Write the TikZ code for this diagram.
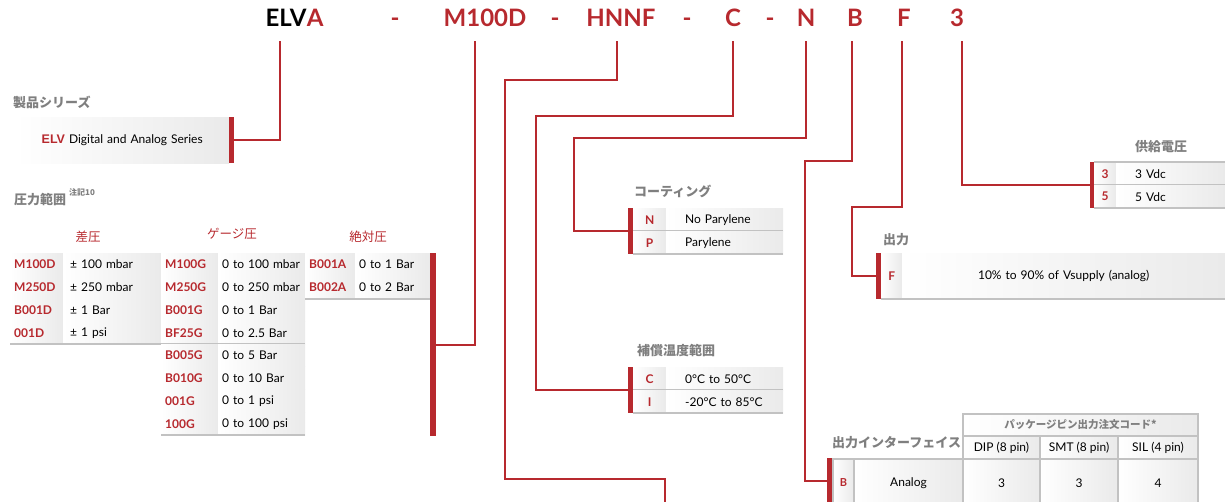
\documentclass[tikz,border=0pt]{standalone}
\usepackage{fontspec}
\setmainfont{Lato}
\newfontfamily\jpfont{Noto Sans CJK JP}
\newfontfamily\arialfont{Liberation Sans}
\usetikzlibrary{positioning}
\definecolor{elvred}{HTML}{B7292E}
\definecolor{labgray}{HTML}{7F7F7F}
\definecolor{cellgray}{HTML}{EAEAEA}
\definecolor{linegray}{HTML}{C2C2C2}

\begin{document}
\begin{tikzpicture}[
            x = 1pt, y = -1pt, % one unit per pixel, y runs down
            title/.style = {font=\bfseries\fontsize{24}{28}\selectfont, anchor=base, inner xsep=0pt, inner ysep=14pt, text depth=0pt},
            wire/.style = {draw=elvred, line width=2pt},
            bar/.style = {fill=elvred, inner sep=0pt, minimum width=5pt, minimum height=46pt, anchor=north west},
            cell/.style = {anchor=north west, inner xsep=4pt, inner ysep=0pt, minimum height=22.75pt, text width=#1, left color=white, right color=cellgray, font=\fontsize{12}{14}\selectfont},
            code/.style = {cell=#1, text=elvred, font=\bfseries\fontsize{12}{14}\selectfont},
            val/.style = {cell=#1},
            sepline/.style = {draw=linegray, line width=2pt},
            gcell/.style = {draw=linegray, line width=2pt, inner sep=0pt, anchor=north west, left color=white, right color=cellgray, align=center, font=\fontsize{12}{14}\selectfont},
            grouphead/.style = {font=\jpfont\bfseries\fontsize{13}{15}\selectfont, text=labgray, anchor=base west, inner sep=0pt},
            colhead/.style = {font=\jpfont\fontsize{12.5}{15}\selectfont, text=elvred, inner sep=0pt}
        ]
\useasboundingbox (0,0) rectangle (1225,502);
\clip (0,0) rectangle (1225,502);

% part number
\node[title] (tELV) at (286,27) {ELV};
\node[title, text=elvred, base right=0pt of tELV] (tA) {A};
\node[title, text=elvred] (dash1) at (395,27) {-};
\node[title, text=elvred] (tM) at (485,27) {M100D};
\node[title, text=elvred] (dash2) at (555,27) {-};
\node[title, text=elvred] (tH) at (621,27) {HNNF};
\node[title, text=elvred] (dash3) at (687,27) {-};
\node[title, text=elvred] (tC) at (733,27) {C};
\node[title, text=elvred] (dash4) at (770,27) {-};
\node[title, text=elvred] (tN) at (806,27) {N};
\node[title, text=elvred] (tB) at (855,27) {B};
\node[title, text=elvred] (tF) at (904,27) {F};
\node[title, text=elvred] (t3) at (957,27) {3};

% product series
\node[grouphead] (lbS) at (13,108) {製品シリーズ};
\node[cell=198pt, minimum height=46pt, align=center, inner xsep=8pt] (boxS) at (15,117)
     {{\arialfont\bfseries\fontsize{12.5}{14}\selectfont\color{elvred}ELV} Digital and Analog Series};
\node[bar] (barS) at (229,117) {};

% pressure range
\node[grouphead] (lbP) at (14,205) {圧力範囲};
\node[grouphead, font=\jpfont\bfseries\fontsize{8}{9}\selectfont] (lbPnote) at (69,196) {注記10};
\node[colhead] (hdD) at (88,237) {差圧};
\node[colhead] (hdG) at (232,234) {ゲージ圧};
\node[colhead] (hdA) at (368,237) {絶対圧};

\foreach \cd/\vl [count=\i from 0] in {M100D/{± 100 mbar}, M250D/{± 250 mbar}, B001D/{± 1 Bar}, 001D/{± 1 psi}} {
    \node[code=45pt] (dc\i) at (10,{253+22.75*\i}) {\cd};
    \node[val=84pt, inner xsep=7pt] (dv\i) at (63,{253+22.75*\i}) {\vl};
    \draw[sepline] (dc\i.south west) -- (dv\i.south east);
}
\foreach \cd/\vl [count=\i from 0] in {M100G/{0 to 100 mbar}, M250G/{0 to 250 mbar}, B001G/{0 to 1 Bar}, BF25G/{0 to 2.5 Bar},
                                      B005G/{0 to 5 Bar}, B010G/{0 to 10 Bar}, 001G/{0 to 1 psi}, 100G/{0 to 100 psi}} {
    \node[code=49pt] (gc\i) at (161,{253+22.75*\i}) {\cd};
    \node[val=79pt] (gv\i) at (218,{253+22.75*\i}) {\vl};
    \draw[sepline] (gc\i.south west) -- (gv\i.south east);
}
\foreach \cd/\vl [count=\i from 0] in {B001A/{0 to 1 Bar}, B002A/{0 to 2 Bar}} {
    \node[code=42pt] (ac\i) at (305,{253+22.75*\i}) {\cd};
    \node[val=67pt] (av\i) at (355,{253+22.75*\i}) {\vl};
    \draw[sepline] (ac\i.south west) -- (av\i.south east);
}
\node[bar, minimum width=6pt, minimum height=183pt] (barP) at (430,253) {};

% coating
\node[grouphead] (lbC) at (634,197) {コーティング};
\foreach \cd/\vl [count=\i from 0] in {N/No Parylene, P/Parylene} {
    \node[code=25pt, align=center, minimum height=23pt] (cc\i) at (633,{208+23*\i}) {\cd};
    \node[val=79pt, inner xsep=19pt, minimum height=23pt] (cv\i) at (666,{208+23*\i}) {\vl};
    \draw[sepline] (cc\i.south west) -- (cv\i.south east);
}
\node[bar] (barC) at (628,208) {};

% compensated temperature range
\node[grouphead] (lbT) at (637,355) {補償温度範囲};
\foreach \cd/\vl [count=\i from 0] in {C/{0°C to 50°C}, I/{-20°C to 85°C}} {
    \node[code=25pt, align=center, minimum height=23pt] (tc\i) at (633,{367+23*\i}) {\cd};
    \node[val=79pt, inner xsep=19pt, minimum height=23pt] (tv\i) at (666,{367+23*\i}) {\vl};
    \draw[sepline] (tc\i.south west) -- (tv\i.south east);
}
\node[bar] (barT) at (628,367) {};

% supply voltage
\node[grouphead] (lbV) at (1135,152) {供給電圧};
\foreach \cd/\vl [count=\i from 0] in {3/3 Vdc, 5/5 Vdc} {
    \node[code=14pt, align=center, minimum height=23pt] (vc\i) at (1094,{162+23*\i}) {\cd};
    \node[val=71pt, inner xsep=19pt, minimum height=23pt] (vv\i) at (1116,{162+23*\i}) {\vl};
    \draw[sepline] (vc\i.south west) -- (vv\i.south east);
}
\draw[sepline] (vc0.north west) -- (vv0.north east);
\node[bar, minimum width=4pt] (barV) at (1090,162) {};

% output
\node[grouphead] (lbO) at (883,245) {出力};
\node[code=13pt, align=center, minimum height=46pt] (oc) at (881,253) {F};
\node[val=315pt, align=center, minimum height=46pt] (ov) at (902,253) {10\% to 90\% of Vsupply (analog)};
\draw[sepline] (oc.south west) -- (ov.south east);
\node[bar] (barO) at (876,253) {};

% output interface
\node[grouphead] (lbI) at (832,447) {出力インターフェイス};
\node[gcell, minimum width=235pt, minimum height=22pt, text=labgray, font=\jpfont\bfseries\fontsize{10.5}{12}\selectfont] (pkg) at (962,413) {パッケージピン出力注文コード*};
\node[gcell, minimum width=77pt, minimum height=23pt] (dip) at (962,435) {DIP (8 pin)};
\node[gcell, minimum width=78pt, minimum height=23pt] (smt) at (1039,435) {SMT (8 pin)};
\node[gcell, minimum width=80pt, minimum height=23pt] (sil) at (1117,435) {SIL (4 pin)};
\node[gcell, minimum width=21pt, minimum height=48pt, text=elvred, font=\bfseries\fontsize{11}{13}\selectfont] (ic) at (832,458) {B};
\node[gcell, minimum width=109pt, minimum height=48pt] (ia) at (853,458) {Analog};
\node[gcell, minimum width=77pt, minimum height=48pt] (idip) at (962,458) {3};
\node[gcell, minimum width=78pt, minimum height=48pt] (ismt) at (1039,458) {3};
\node[gcell, minimum width=80pt, minimum height=48pt] (isil) at (1117,458) {4};
\node[bar] (barI) at (827,458) {};
\coordinate (endH) at (665,504);

% connectors
\draw[wire] ([xshift=-6pt]tELV.south) |- (barS.east);
\draw[wire] ([xshift=-10pt]tM.south) |- (barP.east);
\draw[wire] ([xshift=-4pt]tH.south) |- ++(-112,39) -- ++(0,399) -| (endH);
\draw[wire] (tC.south) |- ++(-197,75) |- (barT.west);
\draw[wire] (tN.south) |- ++(-232,97) |- (barC.west);
\draw[wire] ([xshift=-3pt]tB.south) |- ++(-47,120) |- (barI.west);
\draw[wire] ([xshift=-2pt]tF.south) |- ++(-50,166) |- (barO.west);
\draw[wire] ([xshift=5pt]t3.south) |- (barV.west);
\end{tikzpicture}
\end{document}
